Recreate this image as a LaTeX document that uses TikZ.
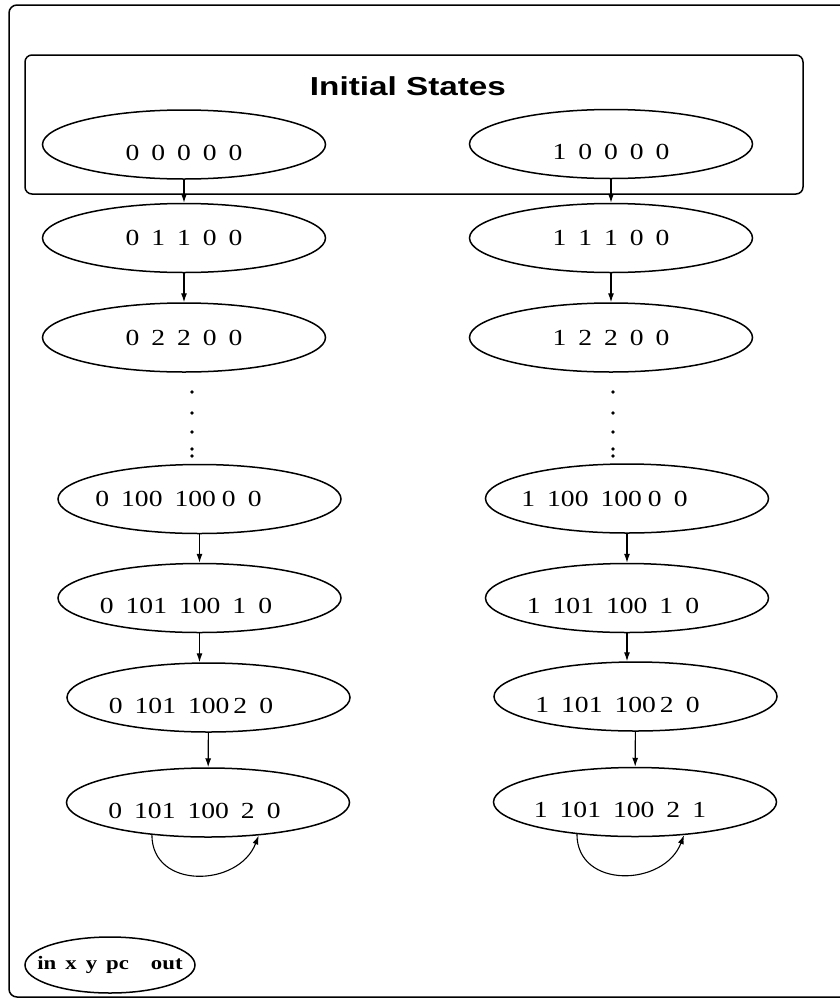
\documentclass[tikz,border=0pt]{standalone}
\usepackage{fontspec}
\setmainfont{Liberation Serif}[FakeStretch=1.2]
\newfontfamily\titlefont{Liberation Sans}[FakeStretch=1.28]
\usetikzlibrary{shapes.geometric,arrows.meta,calc}

\newcommand\statefont{\fontsize{23}{27}\selectfont\spaceskip 12pt plus 1pt\relax}
\newcommand\keyfont{\bfseries\fontsize{19}{22}\selectfont\spaceskip 9pt\relax}

\tikzset{
  state/.style={draw, ellipse, line width=1.5pt, inner ysep=0pt, inner xsep=-12pt,
    minimum width=283pt, minimum height=69pt, font=\statefont},
  lowtext/.style={text height=31pt, text depth=0pt},
  edge/.style={line width=1.1pt, -{Latex[length=9pt,width=6pt]}}
}

\begin{document}
\begin{tikzpicture}[x=1pt, y=-1pt]
  \useasboundingbox (0,0) rectangle (840,999);
  % Coordinates
  \coordinate (A0) at (184, 144.5);
  \coordinate (A1) at (184, 238);
  \coordinate (A2) at (184, 337.5);
  \coordinate (A3) at (199.5, 499);
  \coordinate (A4) at (199.5, 598);
  \coordinate (A5) at (208.5, 697.5);
  \coordinate (A6) at (208, 802.5);
  \coordinate (B0) at (611, 144);
  \coordinate (B1) at (611, 238);
  \coordinate (B2) at (611, 337.5);
  \coordinate (B3) at (627, 498.5);
  \coordinate (B4) at (627, 598);
  \coordinate (B5) at (635.5, 696.5);
  \coordinate (B6) at (635, 802);
  \coordinate (K) at (110, 965);
  \coordinate (T) at (408, 86);

  % Frames
  \draw[line width=1.5pt, rounded corners=8pt] (840,5) -- (9,5) -- (9,997) -- (840,997);
  \draw[line width=1.5pt, rounded corners=7pt] (25,55) rectangle (803,194);
  \node[font=\titlefont\bfseries\fontsize{26}{30}\selectfont] (title) at (T) {Initial States};

  % Left chain
  \node[state, lowtext] (a0) at (A0) {0 0 0 0 0};
  \node[state] (a1) at (A1) {0 1 1 0 0};
  \node[state] (a2) at (A2) {0 2 2 0 0};
  \node[state] (a3) at (A3) {0 100 100\kern6pt0 0\hspace*{42pt}};
  \node[state, lowtext] (a4) at (A4) {0 101 100 1 0\hspace*{27pt}};
  \node[state, lowtext] (a5) at (A5) {0 101 100\kern4pt2 0\hspace*{35pt}};
  \node[state, lowtext] (a6) at (A6) {0 101 100 2 0\hspace*{27pt}};

  % Right chain
  \node[state, lowtext] (b0) at (B0) {1 0 0 0 0};
  \node[state] (b1) at (B1) {1 1 1 0 0};
  \node[state] (b2) at (B2) {1 2 2 0 0};
  \node[state] (b3) at (B3) {1 100 100\kern6pt0 0\hspace*{45pt}};
  \node[state, lowtext] (b4) at (B4) {1 101 100 1 0\hspace*{28pt}};
  \node[state, lowtext] (b5) at (B5) {1 101 100\kern4pt2 0\hspace*{36pt}};
  \node[state, lowtext] (b6) at (B6) {1 101 100 2 1\hspace*{30pt}};

  % Legend
  \node[draw, ellipse, line width=1.5pt, inner ysep=0pt, inner xsep=-30pt, minimum width=170pt,
    minimum height=56pt, font=\keyfont] (key) at (K) {in x y pc\hspace{22pt}out};

  % Transitions
  \draw[edge] (a0) -- (a1);
  \draw[edge] (a1) -- (a2);
  \draw[edge] (a3) -- (a4);
  \draw[edge] (a4.south) -- (a4.south |- a5.north);
  \draw[edge] (a5) -- (a6);
  \draw[edge] (b0) -- (b1);
  \draw[edge] (b1) -- (b2);
  \draw[edge] (b3) -- (b4);
  \draw[edge] (b4.south) -- (b4.south |- b5.north);
  \draw[edge] (b5) -- (b6);
  \draw[edge] (a6.-150) .. controls ($(a6.-150)+(0,55)$) and ($(a6.-33)+(-20,52)$) .. (a6.-33);
  \draw[edge] (b6.-151) .. controls ($(b6.-151)+(0,55)$) and ($(b6.-34)+(-20,52)$) .. (b6.-34);

  % Elided steps
  \foreach \y in {392,413,432,449,456} {
    \fill (192,\y) circle (1.8pt);
    \fill (613,\y) circle (1.8pt);
  }
\end{tikzpicture}
\end{document}
